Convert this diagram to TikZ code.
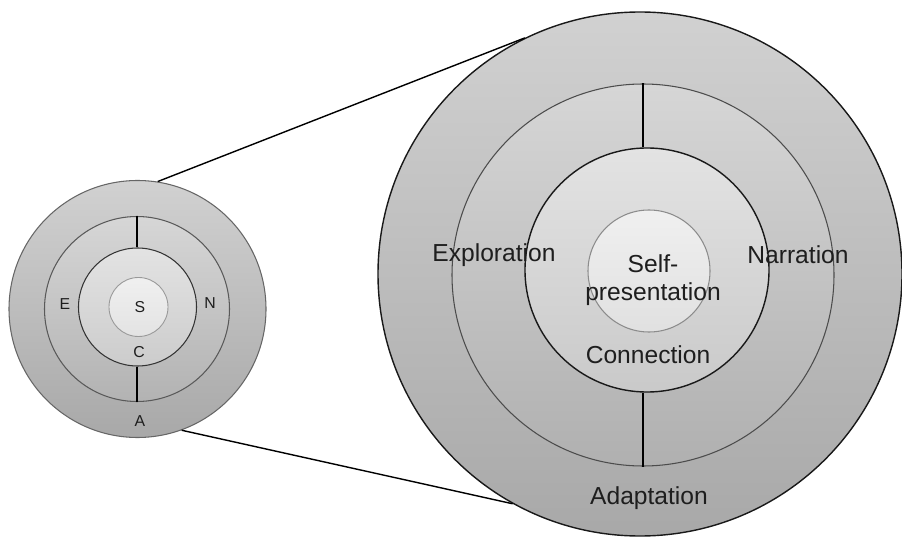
\documentclass[tikz,border=0pt]{standalone}
\usepackage{fontspec}
\setmainfont{Liberation Sans}
\usepackage{tikz}
\usetikzlibrary{positioning}

\definecolor{ink}{HTML}{1E1E1E}

\begin{document}
\begin{tikzpicture}[
		ring/.style={circle, inner sep=0pt, draw},
		bigtext/.style={text=ink, font=\fontsize{14}{16}\selectfont, align=center, inner sep=0pt},
		smalltext/.style={text=ink, font=\fontsize{9}{10}\selectfont, inner sep=0pt}
	]

		\useasboundingbox (0,0) rectangle (18.04,10.82);

		% small circle
		\node[ring, minimum size=5.14cm, draw=black!60, line width=.6pt, top color=black!18, bottom color=black!34] (SA) at (2.75,4.64) {};
		\node[ring, minimum size=3.70cm, draw=black!65, line width=.6pt, top color=black!16, bottom color=black!30] (SE) at (2.74,4.64) {};
		\node[ring, minimum size=2.36cm, draw=black!80, line width=.6pt, top color=black!11, bottom color=black!20] (SC) at (2.75,4.68) {};
		\node[ring, minimum size=1.18cm, draw=black!40, line width=.5pt, top color=black!6, bottom color=black!11] (SS) at (2.77,4.68) {};

		\draw [line width=.7pt] (SE.north) -- (SE.north |- SC.north);
		\draw [line width=.7pt] (SE.south) -- (SE.south |- SC.south);

		\node[smalltext] (EE) at (1.30,4.74) {E};
		\node[smalltext] (NN) at (4.20,4.76) {N};
		\node[smalltext] (SL) at (2.80,4.68) {S};
		\node[smalltext] (CC) at (2.78,3.78) {C};
		\node[smalltext] (AA) at (2.80,2.40) {A};

		% big circle
		\node[ring, minimum size=10.48cm, draw=black!90, line width=.8pt, top color=black!18, bottom color=black!34] (BA) at (12.80,5.34) {};
		\node[ring, minimum size=7.64cm, draw=black!70, line width=.6pt, top color=black!16, bottom color=black!31] (BE) at (12.86,5.32) {};
		\node[ring, minimum size=4.88cm, draw=black!90, line width=.8pt, top color=black!11, bottom color=black!21] (BC) at (12.94,5.42) {};
		\node[ring, minimum size=2.44cm, draw=black!45, line width=.6pt, top color=black!6, bottom color=black!12] (BS) at (12.98,5.40) {};

		\draw [line width=.9pt] (BE.north) -- (BE.north |- BC.north);
		\draw [line width=.9pt] (BE.south) -- (BE.south |- BC.south);

		\node[bigtext] (Expl) at (9.88,5.72) {Exploration};
		\node[bigtext] (Narr) at (15.96,5.72) {Narration};
		\node[bigtext] (Self) at (13.06,5.22) {Self-\\presentation};
		\node[bigtext] (Conn) at (12.96,3.72) {Connection};
		\node[bigtext] (Adap) at (12.98,0.86) {Adaptation};

		% zoom lines
		\draw [line width=.8pt] (SA.81) -- (BA.116);
		\draw [line width=.8pt] (SA.-70) -- (BA.-119);
	\end{tikzpicture}
\end{document}
